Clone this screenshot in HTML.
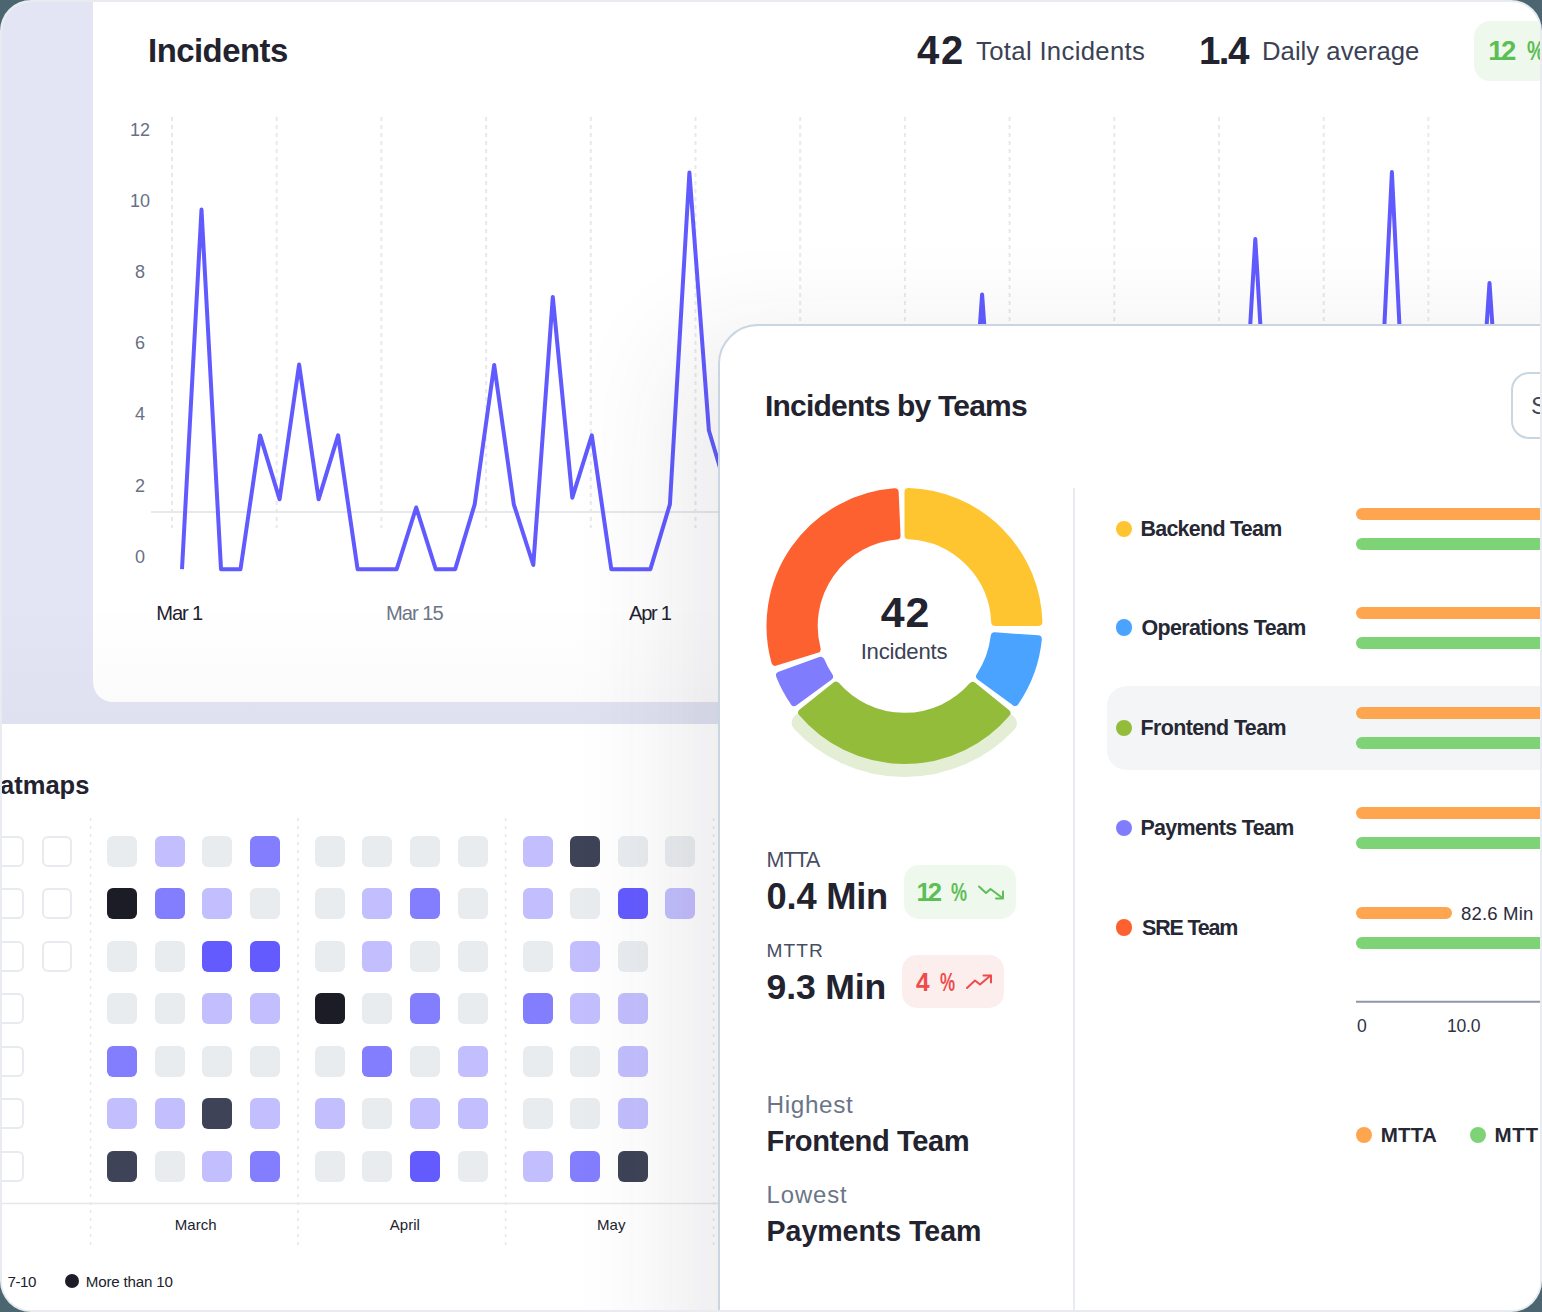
<!DOCTYPE html>
<html><head><meta charset="utf-8"><title>Incidents</title>
<style>
html,body{margin:0;padding:0;width:1542px;height:1312px;overflow:hidden;background:#4b6670}
*{box-sizing:border-box}
.frame{position:absolute;left:0;top:0;width:1542px;height:1312px;border-radius:31px;background:#e8ebef;overflow:hidden}
.inner{position:absolute;left:2px;top:2px;width:1538px;height:1308px;border-radius:29px;overflow:hidden;background:#fff}
.page{position:absolute;left:-2px;top:-2px;width:1542px;height:1312px}
.abs{position:absolute}
.t{position:absolute;white-space:nowrap;font-family:"Liberation Sans",sans-serif}
.cell{position:absolute;width:30px;height:31px;border-radius:6px}
.cell.out{background:#fff;border:2px solid #e7eaee}
.dot{position:absolute;width:16.5px;height:16.5px;border-radius:50%}
.bar{position:absolute;height:12px;border-radius:6px}
svg{position:absolute;left:0;top:0}
</style></head><body>
<div class="frame"><div class="inner"><div class="page">
  <div class="abs" style="left:0;top:0;width:1542px;height:724px;background:#e3e5f4"></div>
  <div class="abs" style="left:93px;top:-40px;width:1500px;height:742px;background:#fff;border-radius:20px"></div>
  <div class="abs" style="left:0;top:600px;width:1542px;height:124px;background:linear-gradient(to bottom,rgba(20,20,60,0),rgba(20,20,60,0.02))"></div>
  <div class="abs" style="left:0;top:724px;width:1542px;height:600px;background:#fff"></div>
  <svg width="1542" height="1312" viewBox="0 0 1542 1312"><g stroke="#e7e9ed" stroke-width="2" stroke-dasharray="4 4"><line x1="172.0" y1="117" x2="172.0" y2="528" /><line x1="276.7" y1="117" x2="276.7" y2="528" /><line x1="381.4" y1="117" x2="381.4" y2="528" /><line x1="486.1" y1="117" x2="486.1" y2="528" /><line x1="590.8" y1="117" x2="590.8" y2="528" /><line x1="695.5" y1="117" x2="695.5" y2="528" /><line x1="800.2" y1="117" x2="800.2" y2="528" /><line x1="904.9" y1="117" x2="904.9" y2="528" /><line x1="1009.6" y1="117" x2="1009.6" y2="528" /><line x1="1114.3" y1="117" x2="1114.3" y2="528" /><line x1="1219.0" y1="117" x2="1219.0" y2="528" /><line x1="1323.7" y1="117" x2="1323.7" y2="528" /><line x1="1428.4" y1="117" x2="1428.4" y2="528" /></g><line x1="151" y1="512" x2="1542" y2="512" stroke="#e5e8ec" stroke-width="2"/><polyline points="182.0,569.2 201.5,209.5 221.0,569.2 240.5,569.2 260.1,435.4 279.6,499.3 299.1,364.5 318.6,499.3 338.1,435.4 357.6,569.2 377.1,569.2 396.7,569.2 416.2,507.5 435.7,569.2 455.2,569.2 474.7,504.3 494.2,365.0 513.8,504.3 533.3,565.0 552.8,297.0 572.3,497.7 591.8,435.4 611.3,569.2 630.8,569.2 650.4,569.2 669.9,504.3 689.4,172.5 708.9,430.5 728.4,496.0 747.9,569.2 767.5,569.2 787.0,569.2 806.5,569.2 826.0,569.2 845.5,569.2 865.0,569.2 884.5,569.2 904.1,569.2 923.6,569.2 943.1,569.2 962.6,569.2 982.1,294.5 1001.6,569.2 1021.1,569.2 1040.7,569.2 1060.2,569.2 1079.7,569.2 1099.2,569.2 1118.7,569.2 1138.2,569.2 1157.8,569.2 1177.3,569.2 1196.8,569.2 1216.3,569.2 1235.8,569.2 1255.3,239.0 1274.8,569.2 1294.4,569.2 1313.9,569.2 1333.4,569.2 1352.9,569.2 1372.4,569.2 1391.9,172.0 1411.4,569.2 1431.0,569.2 1450.5,569.2 1470.0,569.2 1489.5,283.0 1509.0,569.2 1528.5,569.2 1548.0,569.2 1567.6,569.2 1587.1,569.2 1606.6,569.2 1626.1,569.2" fill="none" stroke="#615aff" stroke-width="4" stroke-linejoin="round"/><g stroke="#e4e7eb" stroke-width="1.5" stroke-dasharray="3 5"><line x1="90.6" y1="818" x2="90.6" y2="1248"/><line x1="298" y1="818" x2="298" y2="1248"/><line x1="505.6" y1="818" x2="505.6" y2="1248"/><line x1="713.6" y1="818" x2="713.6" y2="1248"/></g><line x1="0" y1="1203.4" x2="760" y2="1203.4" stroke="#e5e7eb" stroke-width="1.5"/></svg>
  <div class="t" style="left:100px;width:80px;text-align:center;top:121px;font-size:18px;line-height:18px;color:#687085">12</div>
<div class="t" style="left:100px;width:80px;text-align:center;top:192px;font-size:18px;line-height:18px;color:#687085">10</div>
<div class="t" style="left:100px;width:80px;text-align:center;top:263px;font-size:18px;line-height:18px;color:#687085">8</div>
<div class="t" style="left:100px;width:80px;text-align:center;top:334px;font-size:18px;line-height:18px;color:#687085">6</div>
<div class="t" style="left:100px;width:80px;text-align:center;top:405px;font-size:18px;line-height:18px;color:#687085">4</div>
<div class="t" style="left:100px;width:80px;text-align:center;top:477px;font-size:18px;line-height:18px;color:#687085">2</div>
<div class="t" style="left:100px;width:80px;text-align:center;top:548px;font-size:18px;line-height:18px;color:#687085">0</div>
  <div class="cell" style="left:107px;top:835.6px;background:#e9ecef"></div>
<div class="cell" style="left:154.7px;top:835.6px;background:#c3befd"></div>
<div class="cell" style="left:202.3px;top:835.6px;background:#e9ecef"></div>
<div class="cell" style="left:250px;top:835.6px;background:#837efd"></div>
<div class="cell" style="left:107px;top:888.1px;background:#1c1c26"></div>
<div class="cell" style="left:154.7px;top:888.1px;background:#837efd"></div>
<div class="cell" style="left:202.3px;top:888.1px;background:#c3befd"></div>
<div class="cell" style="left:250px;top:888.1px;background:#e9ecef"></div>
<div class="cell" style="left:107px;top:940.7px;background:#e9ecef"></div>
<div class="cell" style="left:154.7px;top:940.7px;background:#e9ecef"></div>
<div class="cell" style="left:202.3px;top:940.7px;background:#645bff"></div>
<div class="cell" style="left:250px;top:940.7px;background:#645bff"></div>
<div class="cell" style="left:107px;top:993.2px;background:#e9ecef"></div>
<div class="cell" style="left:154.7px;top:993.2px;background:#e9ecef"></div>
<div class="cell" style="left:202.3px;top:993.2px;background:#c3befd"></div>
<div class="cell" style="left:250px;top:993.2px;background:#c3befd"></div>
<div class="cell" style="left:107px;top:1045.8px;background:#837efd"></div>
<div class="cell" style="left:154.7px;top:1045.8px;background:#e9ecef"></div>
<div class="cell" style="left:202.3px;top:1045.8px;background:#e9ecef"></div>
<div class="cell" style="left:250px;top:1045.8px;background:#e9ecef"></div>
<div class="cell" style="left:107px;top:1098.3px;background:#c3befd"></div>
<div class="cell" style="left:154.7px;top:1098.3px;background:#c3befd"></div>
<div class="cell" style="left:202.3px;top:1098.3px;background:#3e4357"></div>
<div class="cell" style="left:250px;top:1098.3px;background:#c3befd"></div>
<div class="cell" style="left:107px;top:1150.9px;background:#3e4357"></div>
<div class="cell" style="left:154.7px;top:1150.9px;background:#e9ecef"></div>
<div class="cell" style="left:202.3px;top:1150.9px;background:#c3befd"></div>
<div class="cell" style="left:250px;top:1150.9px;background:#837efd"></div>
<div class="cell" style="left:314.5px;top:835.6px;background:#e9ecef"></div>
<div class="cell" style="left:362.2px;top:835.6px;background:#e9ecef"></div>
<div class="cell" style="left:410px;top:835.6px;background:#e9ecef"></div>
<div class="cell" style="left:457.6px;top:835.6px;background:#e9ecef"></div>
<div class="cell" style="left:314.5px;top:888.1px;background:#e9ecef"></div>
<div class="cell" style="left:362.2px;top:888.1px;background:#c3befd"></div>
<div class="cell" style="left:410px;top:888.1px;background:#837efd"></div>
<div class="cell" style="left:457.6px;top:888.1px;background:#e9ecef"></div>
<div class="cell" style="left:314.5px;top:940.7px;background:#e9ecef"></div>
<div class="cell" style="left:362.2px;top:940.7px;background:#c3befd"></div>
<div class="cell" style="left:410px;top:940.7px;background:#e9ecef"></div>
<div class="cell" style="left:457.6px;top:940.7px;background:#e9ecef"></div>
<div class="cell" style="left:314.5px;top:993.2px;background:#1c1c26"></div>
<div class="cell" style="left:362.2px;top:993.2px;background:#e9ecef"></div>
<div class="cell" style="left:410px;top:993.2px;background:#837efd"></div>
<div class="cell" style="left:457.6px;top:993.2px;background:#e9ecef"></div>
<div class="cell" style="left:314.5px;top:1045.8px;background:#e9ecef"></div>
<div class="cell" style="left:362.2px;top:1045.8px;background:#837efd"></div>
<div class="cell" style="left:410px;top:1045.8px;background:#e9ecef"></div>
<div class="cell" style="left:457.6px;top:1045.8px;background:#c3befd"></div>
<div class="cell" style="left:314.5px;top:1098.3px;background:#c3befd"></div>
<div class="cell" style="left:362.2px;top:1098.3px;background:#e9ecef"></div>
<div class="cell" style="left:410px;top:1098.3px;background:#c3befd"></div>
<div class="cell" style="left:457.6px;top:1098.3px;background:#c3befd"></div>
<div class="cell" style="left:314.5px;top:1150.9px;background:#e9ecef"></div>
<div class="cell" style="left:362.2px;top:1150.9px;background:#e9ecef"></div>
<div class="cell" style="left:410px;top:1150.9px;background:#645bff"></div>
<div class="cell" style="left:457.6px;top:1150.9px;background:#e9ecef"></div>
<div class="cell" style="left:522.5px;top:835.6px;background:#c3befd"></div>
<div class="cell" style="left:569.8px;top:835.6px;background:#3e4357"></div>
<div class="cell" style="left:617.5px;top:835.6px;background:#e9ecef"></div>
<div class="cell" style="left:665.2px;top:835.6px;background:#e9ecef"></div>
<div class="cell" style="left:522.5px;top:888.1px;background:#c3befd"></div>
<div class="cell" style="left:569.8px;top:888.1px;background:#e9ecef"></div>
<div class="cell" style="left:617.5px;top:888.1px;background:#645bff"></div>
<div class="cell" style="left:665.2px;top:888.1px;background:#c3befd"></div>
<div class="cell" style="left:522.5px;top:940.7px;background:#e9ecef"></div>
<div class="cell" style="left:569.8px;top:940.7px;background:#c3befd"></div>
<div class="cell" style="left:617.5px;top:940.7px;background:#e9ecef"></div>
<div class="cell" style="left:522.5px;top:993.2px;background:#837efd"></div>
<div class="cell" style="left:569.8px;top:993.2px;background:#c3befd"></div>
<div class="cell" style="left:617.5px;top:993.2px;background:#c3befd"></div>
<div class="cell" style="left:522.5px;top:1045.8px;background:#e9ecef"></div>
<div class="cell" style="left:569.8px;top:1045.8px;background:#e9ecef"></div>
<div class="cell" style="left:617.5px;top:1045.8px;background:#c3befd"></div>
<div class="cell" style="left:522.5px;top:1098.3px;background:#e9ecef"></div>
<div class="cell" style="left:569.8px;top:1098.3px;background:#e9ecef"></div>
<div class="cell" style="left:617.5px;top:1098.3px;background:#c3befd"></div>
<div class="cell" style="left:522.5px;top:1150.9px;background:#c3befd"></div>
<div class="cell" style="left:569.8px;top:1150.9px;background:#837efd"></div>
<div class="cell" style="left:617.5px;top:1150.9px;background:#3e4357"></div>
<div class="cell out" style="left:-5.7px;top:835.6px"></div>
<div class="cell out" style="left:42px;top:835.6px"></div>
<div class="cell out" style="left:-5.7px;top:888.1px"></div>
<div class="cell out" style="left:42px;top:888.1px"></div>
<div class="cell out" style="left:-5.7px;top:940.7px"></div>
<div class="cell out" style="left:42px;top:940.7px"></div>
<div class="cell out" style="left:-5.7px;top:993.2px"></div>
<div class="cell out" style="left:-5.7px;top:1045.8px"></div>
<div class="cell out" style="left:-5.7px;top:1098.3px"></div>
<div class="cell out" style="left:-5.7px;top:1150.9px"></div>
  <div class="abs" style="left:718px;top:324px;width:1000px;height:1200px;background:#fff;border:2px solid #c9d5e1;border-radius:40px;box-shadow:-45px 15px 110px rgba(40,40,70,0.09)"></div>
  <div class="abs" style="left:1510.5px;top:372px;width:200px;height:67px;border:2px solid #c9d5e1;border-radius:18px"></div>
  <div class="abs" style="left:1073px;top:488px;width:1.5px;height:900px;background:#e8ebef"></div>
  <div class="abs" style="left:1107px;top:685.8px;width:600px;height:84px;background:#f4f5f7;border-radius:20px"></div>
  <div class="abs" style="left:904px;top:864.8px;width:111.6px;height:53.8px;background:#eff8ec;border-radius:15px"></div>
  <div class="abs" style="left:902px;top:955px;width:102px;height:53px;background:#fdeeee;border-radius:15px"></div>
  <div class="abs" style="left:1474px;top:21px;width:100px;height:60px;background:#eff8ec;border-radius:16px"></div>
  <svg width="1542" height="1312" viewBox="0 0 1542 1312"><path d="M1007.96,723.27 A142,142 0 0 1 800.54,722.72 L810.62,714.47 A129,129 0 0 0 997.92,714.96 Z" fill="#e3eed4" stroke="#e3eed4" stroke-width="18" stroke-linejoin="round"/><path d="M908.50,492.06 A134,134 0 0 1 1038.44,622.00 L995.21,622.00 A90.8,90.8 0 0 0 908.50,535.29 Z" fill="#fec530" stroke="#fec530" stroke-width="8" stroke-linejoin="round"/><path d="M1037.83,639.33 A134,134 0 0 1 1014.95,701.88 L980.06,676.35 A90.8,90.8 0 0 0 994.71,636.32 Z" fill="#4aa4ff" stroke="#4aa4ff" stroke-width="8" stroke-linejoin="round"/><path d="M1006.38,713.04 A134,134 0 0 1 802.17,712.51 L836.00,685.60 A90.8,90.8 0 0 0 972.69,685.96 Z" fill="#92bc3a" stroke="#92bc3a" stroke-width="8" stroke-linejoin="round"/><path d="M794.19,702.07 A134,134 0 0 1 780.01,675.57 L820.63,660.78 A90.8,90.8 0 0 0 829.02,676.48 Z" fill="#807cfe" stroke="#807cfe" stroke-width="8" stroke-linejoin="round"/><path d="M775.37,661.79 A134,134 0 0 1 894.66,492.36 L896.55,535.55 A90.8,90.8 0 0 0 816.66,649.00 Z" fill="#fc612f" stroke="#fc612f" stroke-width="8" stroke-linejoin="round"/>
    <line x1="1356" y1="1001.7" x2="1542" y2="1001.7" stroke="#8e97a8" stroke-width="2"/>
    <polyline points="979,886.5 986,893 990.5,889 1002.5,898" fill="none" stroke="#5cbf55" stroke-width="2" stroke-linejoin="round" stroke-linecap="round"/>
    <polyline points="996,898.5 1003,898.5 1003,891.5" fill="none" stroke="#5cbf55" stroke-width="2" stroke-linejoin="round" stroke-linecap="round"/>
    <polyline points="967,988 975,980.5 980,984.5 990.5,975.5" fill="none" stroke="#ef4b4b" stroke-width="2" stroke-linejoin="round" stroke-linecap="round"/>
    <polyline points="983.5,975.5 991,975.5 991,982.5" fill="none" stroke="#ef4b4b" stroke-width="2" stroke-linejoin="round" stroke-linecap="round"/>
  </svg>
  <div class="dot" style="left:1115.75px;top:520.55px;background:#fec530"></div>
<div class="bar" style="left:1356.2px;top:507.80px;width:1600px;background:#fea64f"></div>
<div class="bar" style="left:1356.2px;top:537.80px;width:1600px;background:#7ed377"></div>
<div class="dot" style="left:1115.75px;top:619.45px;background:#4aa4ff"></div>
<div class="bar" style="left:1356.2px;top:606.70px;width:1600px;background:#fea64f"></div>
<div class="bar" style="left:1356.2px;top:636.70px;width:1600px;background:#7ed377"></div>
<div class="dot" style="left:1115.75px;top:719.75px;background:#92bc3a"></div>
<div class="bar" style="left:1356.2px;top:707.00px;width:1600px;background:#fea64f"></div>
<div class="bar" style="left:1356.2px;top:737.00px;width:1600px;background:#7ed377"></div>
<div class="dot" style="left:1115.75px;top:819.75px;background:#807cfe"></div>
<div class="bar" style="left:1356.2px;top:807.00px;width:1600px;background:#fea64f"></div>
<div class="bar" style="left:1356.2px;top:837.00px;width:1600px;background:#7ed377"></div>
<div class="dot" style="left:1115.75px;top:919.45px;background:#fc612f"></div>
<div class="bar" style="left:1356.2px;top:906.70px;width:96.20000000000005px;background:#fea64f"></div>
<div class="bar" style="left:1356.2px;top:936.70px;width:1600px;background:#7ed377"></div>
  <div class="dot" style="left:1355.75px;top:1126.65px;background:#fea64f"></div>
  <div class="dot" style="left:1469.55px;top:1126.65px;background:#7ed377"></div>
  <div class="dot" style="left:64.6px;top:1273.5px;width:14px;height:14px;background:#1c1d26"></div>
  <div class="t" style="left:148.00px;top:35.00px;font-size:32.86px;line-height:32.86px;font-weight:bold;color:#22232e;letter-spacing:-0.496px;transform-origin:2.00px 0;transform:scaleX(1.000)">Incidents</div>
<div class="t" style="left:917.00px;top:30.00px;font-size:40.0px;line-height:40.0px;font-weight:bold;color:#22232e;letter-spacing:1.754px;transform-origin:0.00px 0;transform:scaleX(1.000)">42</div>
<div class="t" style="left:976.00px;top:39.00px;font-size:25.71px;line-height:25.71px;font-weight:normal;color:#3b4256;letter-spacing:0.324px;transform-origin:0.00px 0;transform:scaleX(1.000)">Total Incidents</div>
<div class="t" style="left:1199.00px;top:32.00px;font-size:38.57px;line-height:38.57px;font-weight:bold;color:#22232e;letter-spacing:-1.580px;transform-origin:2.00px 0;transform:scaleX(1.000)">1.4</div>
<div class="t" style="left:1262.00px;top:39.00px;font-size:25.71px;line-height:25.71px;font-weight:normal;color:#3b4256;letter-spacing:0.012px;transform-origin:2.00px 0;transform:scaleX(1.000)">Daily average</div>
<div class="t" style="left:1488.30px;top:37.00px;font-size:27.57px;line-height:27.57px;font-weight:bold;color:#5cbf55;letter-spacing:-2.629px;transform-origin:1.00px 0;transform:scaleX(1.000)">12</div>
<div class="t" style="left:1526.60px;top:37.00px;font-size:27.57px;line-height:27.57px;font-weight:bold;color:#5cbf55;letter-spacing:0.000px;transform-origin:0.00px 0;transform:scaleX(0.725)">%</div>
<div class="t" style="left:156.30px;top:603.00px;font-size:20.14px;line-height:20.14px;font-weight:normal;color:#1f2130;letter-spacing:-1.138px;transform-origin:1.00px 0;transform:scaleX(1.000)">Mar 1</div>
<div class="t" style="left:386.00px;top:603.00px;font-size:20.14px;line-height:20.14px;font-weight:normal;color:#6b7587;letter-spacing:-0.969px;transform-origin:1.00px 0;transform:scaleX(1.000)">Mar 15</div>
<div class="t" style="left:629.00px;top:603.00px;font-size:20.14px;line-height:20.14px;font-weight:normal;color:#1f2130;letter-spacing:-1.277px;transform-origin:0.00px 0;transform:scaleX(1.000)">Apr 1</div>
<div class="t" style="left:765.00px;top:391.00px;font-size:30.0px;line-height:30.0px;font-weight:bold;color:#22232e;letter-spacing:-0.795px;transform-origin:2.00px 0;transform:scaleX(1.000)">Incidents by Teams</div>
<div class="t" style="left:1531.00px;top:394.00px;font-size:24.29px;line-height:24.29px;font-weight:normal;color:#3e4759;letter-spacing:0.000px;transform-origin:1.00px 0;transform:scaleX(1.000)">S</div>
<div class="t" style="left:880.80px;top:591.00px;font-size:42.86px;line-height:42.86px;font-weight:bold;color:#22232e;letter-spacing:0.964px;transform-origin:0.00px 0;transform:scaleX(1.000)">42</div>
<div class="t" style="left:860.70px;top:641.00px;font-size:22.14px;line-height:22.14px;font-weight:normal;color:#3a4255;letter-spacing:-0.211px;transform-origin:2.00px 0;transform:scaleX(1.000)">Incidents</div>
<div class="t" style="left:766.60px;top:850.00px;font-size:21.43px;line-height:21.43px;font-weight:normal;color:#474e63;letter-spacing:-1.008px;transform-origin:1.00px 0;transform:scaleX(1.000)">MTTA</div>
<div class="t" style="left:766.60px;top:879.00px;font-size:36.29px;line-height:36.29px;font-weight:bold;color:#22232e;letter-spacing:-0.236px;transform-origin:1.00px 0;transform:scaleX(1.000)">0.4 Min</div>
<div class="t" style="left:916.40px;top:880.00px;font-size:25.57px;line-height:25.57px;font-weight:bold;color:#5cbf55;letter-spacing:-2.917px;transform-origin:1.00px 0;transform:scaleX(1.000)">12</div>
<div class="t" style="left:951.00px;top:880.00px;font-size:25.57px;line-height:25.57px;font-weight:bold;color:#5cbf55;letter-spacing:0.000px;transform-origin:0.00px 0;transform:scaleX(0.704)">%</div>
<div class="t" style="left:766.60px;top:941.00px;font-size:19.14px;line-height:19.14px;font-weight:normal;color:#474e63;letter-spacing:1.035px;transform-origin:1.00px 0;transform:scaleX(1.000)">MTTR</div>
<div class="t" style="left:766.60px;top:970.00px;font-size:35.57px;line-height:35.57px;font-weight:bold;color:#22232e;letter-spacing:-0.170px;transform-origin:1.00px 0;transform:scaleX(1.000)">9.3 Min</div>
<div class="t" style="left:916.20px;top:970.00px;font-size:24.86px;line-height:24.86px;font-weight:bold;color:#ef4b4b;letter-spacing:0.000px;transform-origin:0.00px 0;transform:scaleX(0.979)">4</div>
<div class="t" style="left:940.00px;top:970.00px;font-size:24.86px;line-height:24.86px;font-weight:bold;color:#ef4b4b;letter-spacing:0.000px;transform-origin:0.00px 0;transform:scaleX(0.682)">%</div>
<div class="t" style="left:766.60px;top:1093.00px;font-size:24.29px;line-height:24.29px;font-weight:normal;color:#6b7587;letter-spacing:0.636px;transform-origin:1.00px 0;transform:scaleX(1.000)">Highest</div>
<div class="t" style="left:766.60px;top:1127.00px;font-size:29.14px;line-height:29.14px;font-weight:bold;color:#22232e;letter-spacing:-0.433px;transform-origin:1.00px 0;transform:scaleX(1.000)">Frontend Team</div>
<div class="t" style="left:766.60px;top:1183.00px;font-size:23.86px;line-height:23.86px;font-weight:normal;color:#6b7587;letter-spacing:0.886px;transform-origin:1.00px 0;transform:scaleX(1.000)">Lowest</div>
<div class="t" style="left:766.60px;top:1217.00px;font-size:28.57px;line-height:28.57px;font-weight:bold;color:#22232e;letter-spacing:-0.048px;transform-origin:1.00px 0;transform:scaleX(1.000)">Payments Team</div>
<div class="t" style="left:1140.40px;top:519.00px;font-size:21.43px;line-height:21.43px;font-weight:bold;color:#262834;letter-spacing:-0.697px;transform-origin:1.00px 0;transform:scaleX(1.000)">Backend Team</div>
<div class="t" style="left:1141.40px;top:618.00px;font-size:21.43px;line-height:21.43px;font-weight:bold;color:#262834;letter-spacing:-0.604px;transform-origin:0.00px 0;transform:scaleX(1.000)">Operations Team</div>
<div class="t" style="left:1140.40px;top:718.00px;font-size:21.43px;line-height:21.43px;font-weight:bold;color:#262834;letter-spacing:-0.582px;transform-origin:1.00px 0;transform:scaleX(1.000)">Frontend Team</div>
<div class="t" style="left:1140.40px;top:818.00px;font-size:21.43px;line-height:21.43px;font-weight:bold;color:#262834;letter-spacing:-0.632px;transform-origin:1.00px 0;transform:scaleX(1.000)">Payments Team</div>
<div class="t" style="left:1142.00px;top:918.00px;font-size:21.43px;line-height:21.43px;font-weight:bold;color:#262834;letter-spacing:-1.146px;transform-origin:0.00px 0;transform:scaleX(1.000)">SRE Team</div>
<div class="t" style="left:1461.00px;top:905.00px;font-size:18.57px;line-height:18.57px;font-weight:normal;color:#2a2d3a;letter-spacing:0.161px;transform-origin:0.00px 0;transform:scaleX(1.000)">82.6 Min</div>
<div class="t" style="left:1357.00px;top:1018.00px;font-size:17.57px;line-height:17.57px;font-weight:normal;color:#2f3341;letter-spacing:0.000px;transform-origin:0.00px 0;transform:scaleX(1.000)">0</div>
<div class="t" style="left:1447.00px;top:1018.00px;font-size:17.57px;line-height:17.57px;font-weight:normal;color:#2f3341;letter-spacing:-0.205px;transform-origin:1.00px 0;transform:scaleX(1.000)">10.0</div>
<div class="t" style="left:1380.70px;top:1125.00px;font-size:20.57px;line-height:20.57px;font-weight:bold;color:#262834;letter-spacing:0.192px;transform-origin:1.00px 0;transform:scaleX(1.000)">MTTA</div>
<div class="t" style="left:1494.50px;top:1125.00px;font-size:20.57px;line-height:20.57px;font-weight:bold;color:#262834;letter-spacing:0.605px;transform-origin:1.00px 0;transform:scaleX(1.000)">MTT</div>
<div class="t" style="left:0.09px;top:773.00px;font-size:25.5px;line-height:25.5px;font-weight:bold;color:#22232e;letter-spacing:0.000px;transform-origin:0.00px 0;transform:scaleX(1.000)">atmaps</div>
<div class="t" style="left:174.83px;top:1217.00px;font-size:15.0px;line-height:15.0px;font-weight:normal;color:#20232e;letter-spacing:0.000px;transform-origin:1.00px 0;transform:scaleX(1.000)">March</div>
<div class="t" style="left:389.86px;top:1217.00px;font-size:15.0px;line-height:15.0px;font-weight:normal;color:#20232e;letter-spacing:0.000px;transform-origin:0.00px 0;transform:scaleX(1.000)">April</div>
<div class="t" style="left:597.08px;top:1217.00px;font-size:15.0px;line-height:15.0px;font-weight:normal;color:#20232e;letter-spacing:0.000px;transform-origin:1.00px 0;transform:scaleX(1.000)">May</div>
<div class="t" style="left:7.60px;top:1274.00px;font-size:15.14px;line-height:15.14px;font-weight:normal;color:#20232e;letter-spacing:-0.487px;transform-origin:0.00px 0;transform:scaleX(1.000)">7-10</div>
<div class="t" style="left:85.80px;top:1274.00px;font-size:15.14px;line-height:15.14px;font-weight:normal;color:#20232e;letter-spacing:-0.183px;transform-origin:1.00px 0;transform:scaleX(1.000)">More than 10</div>
</div></div></div>
</body></html>
